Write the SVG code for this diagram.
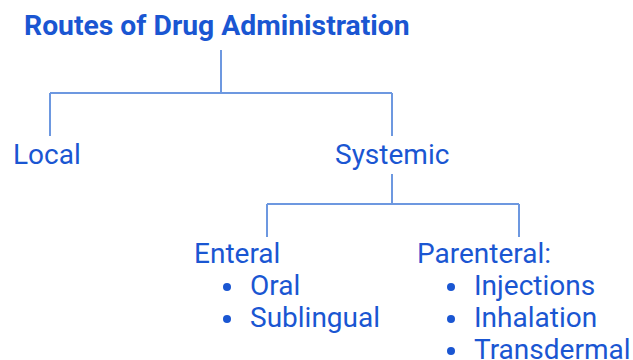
<svg xmlns="http://www.w3.org/2000/svg" width="633" height="360" viewBox="0 0 633 360">
<style>
text{font-family:Roboto,"Liberation Sans",sans-serif;fill:#1a56d2}
.t{font-size:28.3px;font-weight:bold}
.n{font-size:28px}
.c{stroke:#6d98e0;stroke-width:2;fill:none}
.b{fill:#1a56d2}
</style>
<rect width="633" height="360" fill="#ffffff"/>
<g id="connectors">
<path class="c" d="M221 50V93M50 93H392M50 93V136M392 93V136"/>
<path class="c" d="M392 174V204M267 204H519M267 204V237M519 204V237"/>
</g>
<g id="title"><text class="t" x="24" y="35">Routes of Drug Administration</text></g>
<g id="local"><text class="n" x="13" y="164">Local</text></g>
<g id="systemic"><text class="n" x="335" y="164">Systemic</text></g>
<g id="enteral">
<text class="n" x="194" y="263">Enteral</text>
<circle class="b" cx="227" cy="287" r="4"/>
<text class="n" x="250" y="295">Oral</text>
<circle class="b" cx="227" cy="319" r="4"/>
<text class="n" x="250" y="327">Sublingual</text>
</g>
<g id="parenteral">
<text class="n" x="417" y="263">Parenteral:</text>
<circle class="b" cx="451" cy="287" r="4"/>
<text class="n" x="474" y="295">Injections</text>
<circle class="b" cx="451" cy="319" r="4"/>
<text class="n" x="474" y="327">Inhalation</text>
<circle class="b" cx="451" cy="351" r="4"/>
<text class="n" x="474" y="359">Transdermal</text>
</g>
</svg>
